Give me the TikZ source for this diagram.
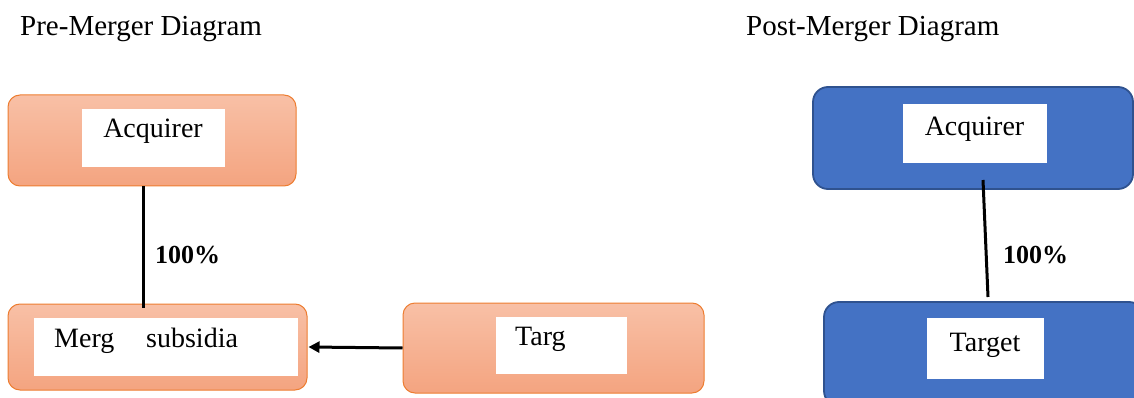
\documentclass[tikz,border=0pt]{standalone}
\usepackage{fontspec}
\setmainfont{Liberation Serif}
\usetikzlibrary{arrows.meta}
\definecolor{orangeedge}{HTML}{ED7D31}
\definecolor{orangetop}{HTML}{F8C0A6}
\definecolor{orangebot}{HTML}{F4A480}
\definecolor{bluefill}{HTML}{4472C4}
\definecolor{blueedge}{HTML}{2F528F}
\tikzset{
  orangebox/.style={draw=orangeedge, line width=1pt, rounded corners=12pt,
    top color=orangetop, bottom color=orangebot, inner sep=0pt},
  bluebox/.style={draw=blueedge, line width=1.8pt, rounded corners=15pt,
    fill=bluefill, inner sep=0pt},
  whitebox/.style={fill=white, draw=none, inner sep=0pt},
  label/.style={inner sep=0pt, font=\fontsize{28}{32}\selectfont},
  pct/.style={inner sep=0pt, font=\fontsize{26}{30}\selectfont\bfseries},
  heading/.style={inner sep=0pt, anchor=base west, font=\fontsize{29}{33}\selectfont},
  link/.style={line width=3pt, black},
}
\begin{document}
\begin{tikzpicture}[x=1pt,y=-1pt]
\useasboundingbox (0,0) rectangle (1134,398);
\clip (0,0) rectangle (1134,398);

% headings
\node[heading] (pretitle) at (20,36) {Pre-Merger Diagram};
\node[heading] (posttitle) at (746,36) {Post-Merger Diagram};

% pre-merger structure
\node[orangebox, minimum width=288pt, minimum height=91pt] (acqL) at (152,140.5) {};
\node[whitebox, minimum width=143pt, minimum height=58pt] (acqLw) at (153.5,138) {};
\node[label, anchor=base] (acqLt) at (153,138) {Acquirer};

\node[orangebox, minimum width=299pt, minimum height=86pt] (mrgL) at (157.5,347) {};
\node[whitebox, minimum width=264pt, minimum height=58pt] (mrgLw) at (166,347) {};
\node[label, anchor=base west] (mrgLt1) at (54,347) {Merg};
\node[label, anchor=base west] (mrgLt2) at (146,347) {subsidia};

\node[orangebox, minimum width=301pt, minimum height=90pt] (tgtL) at (553.5,348) {};
\node[whitebox, minimum width=131pt, minimum height=57pt] (tgtLw) at (561.5,345.5) {};
\node[label, anchor=base west] (tgtLt) at (515,345) {Targ};

\coordinate (lineLend) at (143,308);
\draw[link] (lineLend |- acqL.south) -- (lineLend);
\node[pct, anchor=base west] (pctL) at (155,263) {100\%};

\draw[link, -{Triangle[length=11pt,width=11pt]}] (tgtL.west) -- ([xshift=1pt]mrgL.east);

% post-merger structure
\node[bluebox, minimum width=320pt, minimum height=102pt] (acqR) at (973,138) {};
\node[whitebox, minimum width=144pt, minimum height=59pt] (acqRw) at (975,133.5) {};
\node[label, anchor=base] (acqRt) at (974.5,136) {Acquirer};

\node[bluebox, minimum width=320pt, minimum height=104pt] (tgtR) at (984,354) {};
\node[whitebox, minimum width=117pt, minimum height=61pt] (tgtRw) at (985.5,348.5) {};
\node[label, anchor=base] (tgtRt) at (985,351) {Target};

\coordinate (lineRtop) at (983,180);
\coordinate (lineRend) at (988,297);
\draw[link] (lineRtop) -- (lineRend);
\node[pct, anchor=base west] (pctR) at (1003,263) {100\%};
\end{tikzpicture}
\end{document}
